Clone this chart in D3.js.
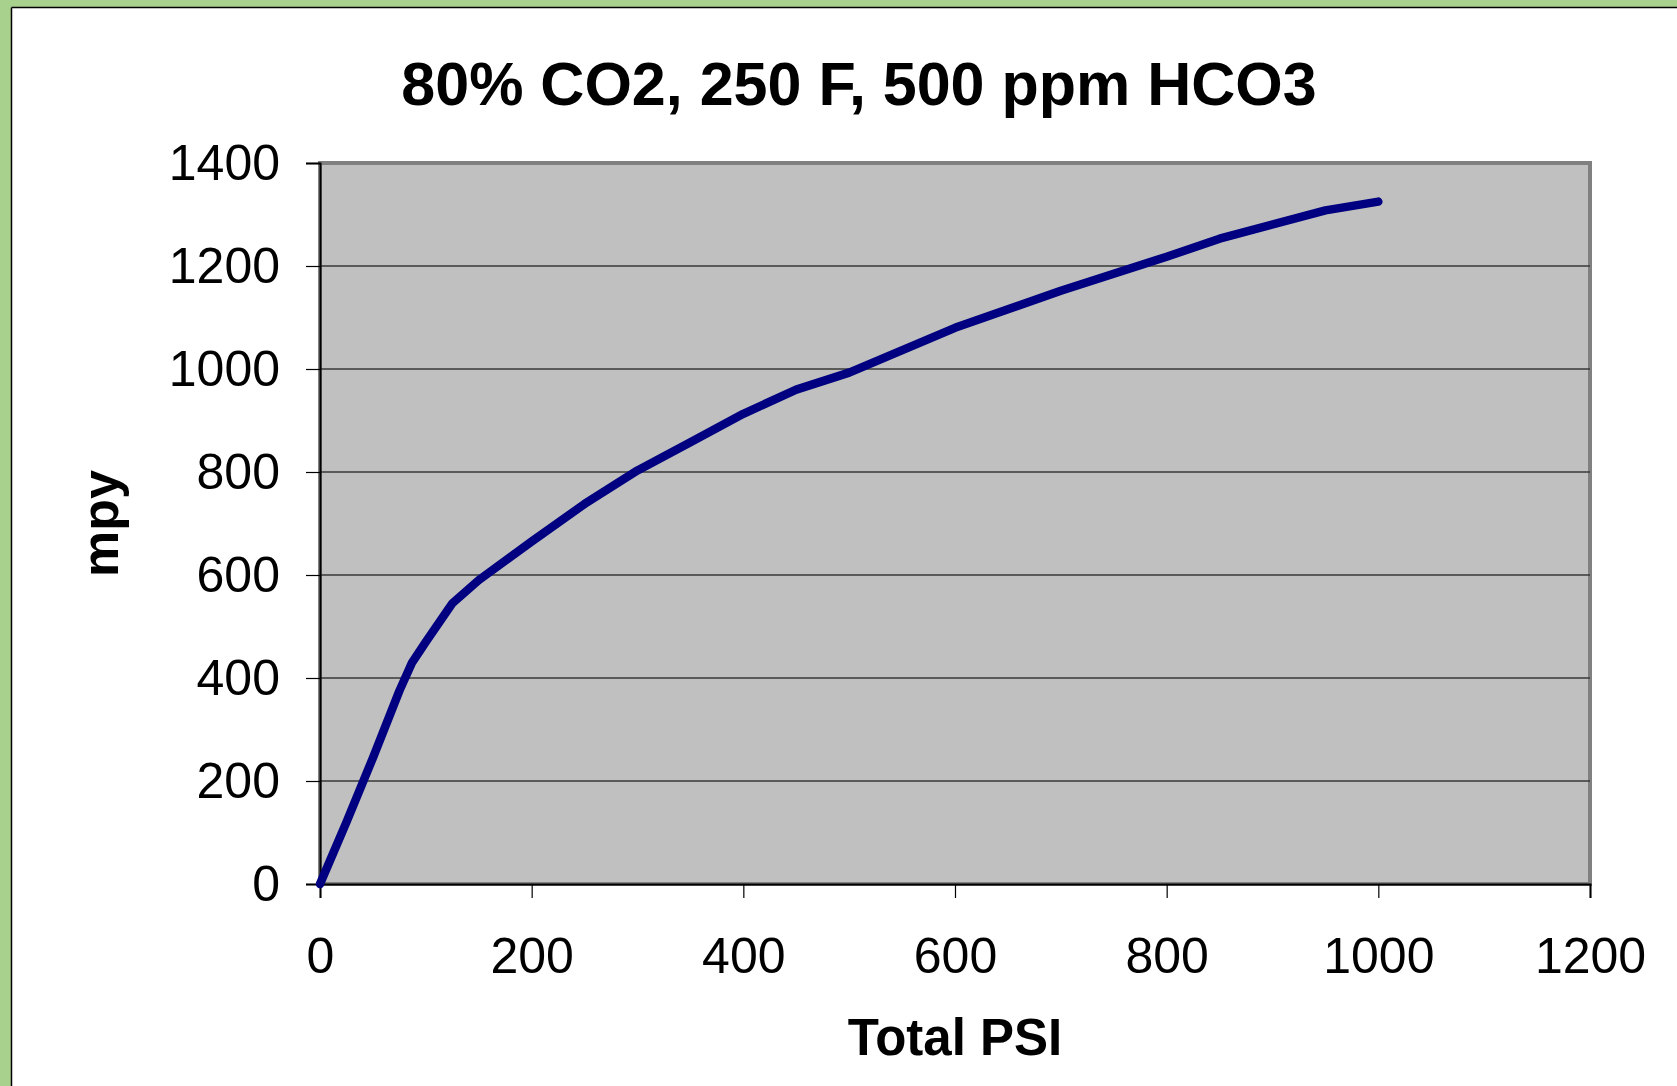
<!DOCTYPE html>
<html lang="en">
	<head>
		<meta charset="utf-8">
		<title>80% CO2, 250 F, 500 ppm HCO3</title>
		<script type="text/javascript" src="https://cdnjs.cloudflare.com/ajax/libs/d3/7.8.5/d3.min.js"></script>
		<style type="text/css">
			body { margin: 0; background: #fff; }
			text { font-family: "Liberation Sans", Arial, sans-serif; fill: #000; }
		</style>
	</head>
	<body>
		<script type="text/javascript">

			//Chart values
			var titleText = "80% CO2, 250 F, 500 ppm HCO3";
			var xTitle = "Total PSI";
			var yTitle = "mpy";
			var psi = [0, 25, 50, 75, 87, 100, 125, 150, 200, 250, 300, 350, 400, 450, 500, 600, 700, 800, 850, 950, 1000];
			var mpy = [0, 120, 245, 375, 430, 470, 545, 590, 665, 738, 803, 858, 913, 960, 993, 1080, 1152, 1218, 1253, 1308, 1325];
			var xTicks = [0, 200, 400, 600, 800, 1000, 1200];
			var yTicks = [0, 200, 400, 600, 800, 1000, 1200, 1400];

			//Width and height
			var w = 1677;
			var h = 1086;
			var plotLeft = 320, plotRight = 1590, plotTop = 163, plotBottom = 884;

			var svg = d3.select("body")
						.append("svg")
						.attr("width", w)
						.attr("height", h);

			//Green frame
			svg.append("rect").attr("x", 0).attr("y", 0).attr("width", w).attr("height", 7).attr("fill", "#a9d18e");
			svg.append("rect").attr("x", 0).attr("y", 0).attr("width", 11).attr("height", h).attr("fill", "#a9d18e");
			svg.append("line").attr("x1", 11.5).attr("x2", w).attr("y1", 7.5).attr("y2", 7.5).attr("stroke", "#000").attr("stroke-width", 1.5);
			svg.append("line").attr("x1", 11.5).attr("x2", 11.5).attr("y1", 7.5).attr("y2", h).attr("stroke", "#000").attr("stroke-width", 1.5);

			//Scales
			var xScale = d3.scaleLinear().domain([0, 1200]).range([plotLeft, plotRight]);
			var yScale = d3.scaleLinear().domain([0, 1400]).range([plotBottom, plotTop]);

			//Plot area
			svg.append("rect")
			   .attr("x", plotLeft).attr("y", plotTop)
			   .attr("width", plotRight - plotLeft).attr("height", plotBottom - plotTop)
			   .attr("fill", "#c0c0c0")
			   .attr("stroke", "#808080")
			   .attr("stroke-width", 4);

			//Gridlines
			svg.selectAll("line.grid")
			   .data(yTicks.filter(d => d > 0 && d < 1400))
			   .enter()
			   .append("line")
			   .attr("class", "grid")
			   .attr("x1", plotLeft).attr("x2", plotRight)
			   .attr("y1", d => yScale(d)).attr("y2", d => yScale(d))
			   .attr("stroke", "#383838")
			   .attr("stroke-width", 1.5);

			//Axes
			var xAxis = d3.axisBottom(xScale).tickValues(xTicks).tickSize(14).tickPadding(39).tickFormat(d3.format("d"));
			var yAxis = d3.axisLeft(yScale).tickValues(yTicks).tickSize(14).tickPadding(26).tickFormat(d3.format("d"));

			var gx = svg.append("g")
				.attr("transform", `translate(0,${plotBottom})`)
				.call(xAxis);
			var gy = svg.append("g")
				.attr("transform", `translate(${plotLeft},0)`)
				.call(yAxis);

			[gx, gy].forEach(g => {
				g.select(".domain").attr("stroke", "#000").attr("stroke-width", 2);
				g.selectAll(".tick line").attr("stroke", "#000").attr("stroke-width", 1.2);
				g.selectAll(".tick text")
				 .attr("font-family", "'Liberation Sans', Arial, sans-serif")
				 .attr("font-size", 50)
				 .attr("fill", "#000");
			});

			//Data line
			var line = d3.line()
						 .x((d, i) => xScale(psi[i]))
						 .y(d => yScale(d));

			svg.append("path")
			   .datum(mpy)
			   .attr("d", line)
			   .attr("fill", "none")
			   .attr("stroke", "#000080")
			   .attr("stroke-width", 8.5)
			   .attr("stroke-linejoin", "round")
			   .attr("stroke-linecap", "round");

			//Titles
			svg.append("text")
			   .attr("x", 859).attr("y", 105)
			   .attr("text-anchor", "middle")
			   .attr("font-weight", "bold")
			   .attr("font-size", 61)
			   .text(titleText);

			svg.append("text")
			   .attr("x", (plotLeft + plotRight) / 2).attr("y", 1055)
			   .attr("text-anchor", "middle")
			   .attr("font-weight", "bold")
			   .attr("font-size", 51)
			   .text(xTitle);

			svg.append("text")
			   .attr("transform", `translate(118,${(plotTop + plotBottom) / 2}) rotate(-90)`)
			   .attr("text-anchor", "middle")
			   .attr("font-weight", "bold")
			   .attr("font-size", 52)
			   .text(yTitle);

		</script>
	</body>
</html>
